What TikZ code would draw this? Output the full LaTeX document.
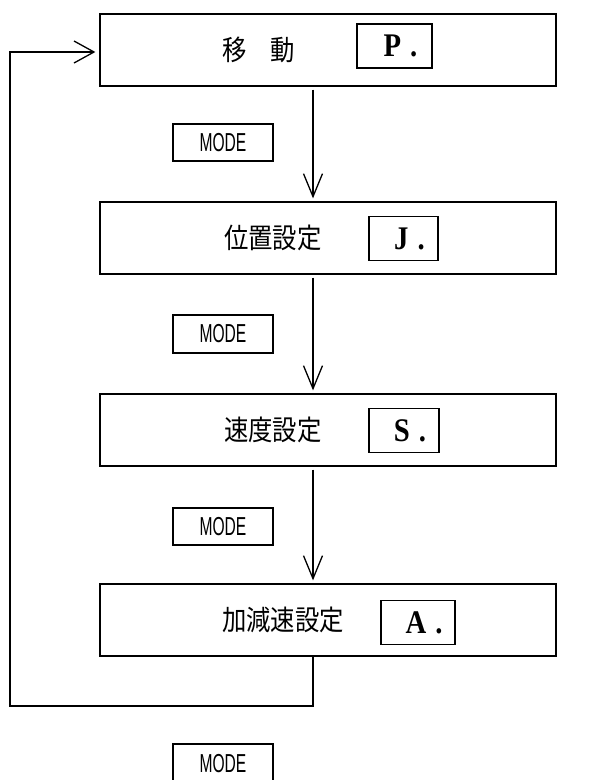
\documentclass[tikz,border=0pt]{standalone}
\usepackage{fontspec}
\usetikzlibrary{arrows.meta}
\newfontfamily\jpfont[FakeStretch=0.87]{Noto Sans CJK JP}
\newfontfamily\modefont[FakeStretch=0.6]{Liberation Sans}
\newfontfamily\letfont[FakeStretch=0.87]{Liberation Serif}
\begin{document}
\begin{tikzpicture}[x=1pt,y=-1pt,
  mainbox/.style={draw=black,line width=1.3pt,fill=white,minimum width=456pt,minimum height=72pt,inner sep=0pt},
  jptext/.style={anchor=west,inner sep=0pt,font=\jpfont\fontsize{28pt}{30pt}\selectfont},
  letbox/.style={draw=black,line width=1.8pt,minimum width=75pt,minimum height=44pt,inner sep=0pt,font=\letfont\bfseries\fontsize{33pt}{35pt}\selectfont},
  modebox/.style={draw=black,line width=1.6pt,minimum width=100pt,minimum height=37pt,inner sep=0pt,font=\modefont\fontsize{26pt}{28pt}\selectfont},
  darr/.style={draw=black,line width=1.3pt,-{Straight Barb[length=23pt,width=19pt,line width=1.3pt]},shorten <=3pt,shorten >=3pt},
  looparr/.style={draw=black,line width=1.3pt,-{Straight Barb[length=20pt,width=22pt,line width=1.3pt]},shorten >=4pt}
]
\useasboundingbox (0,0) rectangle (600,780);
\fill[white] (0,0) rectangle (600,780);

% main boxes
\node[mainbox] (m1) at (328,50) {};
\node[mainbox] (m2) at (328,238) {};
\node[mainbox] (m3) at (328,430) {};
\node[mainbox] (m4) at (328,620) {};

% Japanese labels
\node[jptext] (t1) at (222,50) {移　動};
\node[jptext] (t2) at (224,238) {位置設定};
\node[jptext] (t3) at (224,430) {速度設定};
\node[jptext] (t4) at (222,620) {加減速設定};

% letter boxes
\node[letbox] (p) at (394.5,46) {\hspace*{12pt}P\hspace{9pt}.};
\node[letbox, minimum width=69pt] (j) at (403.5,238.5) {\hspace*{12pt}J\hspace{9pt}.};
\node[letbox, minimum width=70pt] (s) at (404,430.5) {\hspace*{12pt}S\hspace{9pt}.};
\node[letbox, minimum width=74pt] (a) at (418,622.5) {\hspace*{12pt}A\hspace{9pt}.};

% MODE boxes
\node[modebox] (mo1) at (223,142.5) {MODE};
\node[modebox, minimum height=38pt] (mo2) at (223,334) {MODE};
\node[modebox] (mo3) at (223,526.5) {MODE};
\node[modebox, minimum height=40pt, font=\modefont\fontsize{26pt}{26pt}\selectfont] (mo4) at (223,764) {MODE};

% arrows
\draw[darr] ([xshift=-15pt]m1.south) -- ([xshift=-15pt]m2.north);
\draw[darr] ([xshift=-15pt]m2.south) -- ([xshift=-15pt]m3.north);
\draw[darr] ([xshift=-15pt]m3.south) -- ([xshift=-15pt]m4.north);

% loop back
\coordinate (c1) at (10,706);
\draw[looparr] ([xshift=-15pt]m4.south) |- (c1) |- ([yshift=-2pt]m1.west);
\end{tikzpicture}
\end{document}
